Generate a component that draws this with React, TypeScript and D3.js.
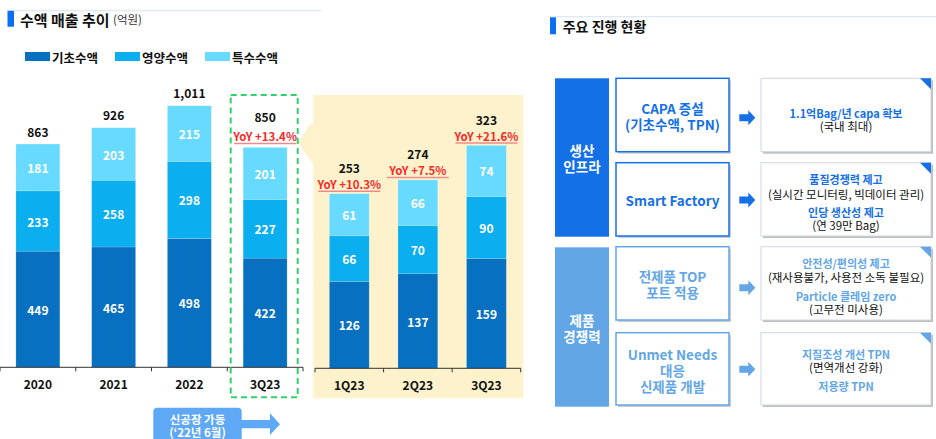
import React from 'react';
import * as d3 from 'd3';

const annualCategories = ['2020', '2021', '2022', '3Q23'];
const annualBasic = [449, 465, 498, 422];
const annualNutrition = [233, 258, 298, 227];
const annualSpecial = [181, 203, 215, 201];
const annualTotals = ['863', '926', '1,011', '850'];
const annualYoY = ['', '', '', 'YoY +13.4%'];

const quarterCategories = ['1Q23', '2Q23', '3Q23'];
const quarterBasic = [126, 137, 159];
const quarterNutrition = [66, 70, 90];
const quarterSpecial = [61, 66, 74];
const quarterTotals = ['253', '274', '323'];
const quarterYoY = ['YoY +10.3%', 'YoY +7.5%', 'YoY +21.6%'];

const seriesNames = ['기초수액', '영양수액', '특수수액'];
const seriesColors = ['#0870c1', '#0baeee', '#69daff'];

const FONT = "'Noto Sans CJK KR', 'Noto Sans', sans-serif";

type Row = { cat: string; vals: number[]; total: string; yoy: string };

function Stack({ rows, x, y, baseline, yoyOff, valOff }: { rows: Row[]; x: d3.ScaleBand<string>; y: d3.ScaleLinear<number, number>; baseline: number; yoyOff: number; valOff: number }) {
  return (
    <g>
      {rows.map((r) => {
        const stacked = d3.stack<number[]>().keys(['0', '1', '2']).value((d, k) => d[+k])([r.vals]);
        const bx = x(r.cat)!;
        const bw = x.bandwidth();
        const top = y(d3.sum(r.vals));
        return (
          <g key={r.cat}>
            {stacked.map((s, i) => {
              const y0 = y(s[0][0]);
              const y1 = y(s[0][1]);
              return (
                <g key={i}>
                  <rect x={bx} y={y1} width={bw} height={y0 - y1} fill={seriesColors[i]} stroke="#ffffff" strokeOpacity={0.25} strokeWidth={0.6} />
                  <text x={bx + bw / 2} y={(y0 + y1) / 2} textAnchor="middle" dominantBaseline="central" fill="#fff" fontSize={12} fontWeight="bold" fontFamily={FONT}>{r.vals[i]}</text>
                </g>
              );
            })}
            {r.yoy && (
              <g>
                <text x={bx + bw / 2} y={top - yoyOff} textAnchor="middle" dominantBaseline="central" fill="#f52a2a" fontSize={11.5} fontWeight="bold" fontFamily={FONT}>{r.yoy}</text>
                <line x1={bx + bw / 2 - 31} x2={bx + bw / 2 + 31} y1={top - yoyOff + 7} y2={top - yoyOff + 7} stroke="#f28a8a" strokeWidth={1.5} />
              </g>
            )}
            <text x={bx + bw / 2} y={top - (r.yoy ? valOff : 13)} textAnchor="middle" dominantBaseline="central" fill="#111" fontSize={12} fontWeight="bold" fontFamily={FONT}>{r.total}</text>
          </g>
        );
      })}
      <line x1={x.range()[0]} x2={x.range()[1]} y1={baseline} y2={baseline} stroke="#333" strokeWidth={1} />
      {d3.range(x.domain().length + 1).map((i) => {
        const tx = x.range()[0] + x.step() * i;
        return <line key={i} x1={tx} x2={tx} y1={baseline} y2={baseline + 4} stroke="#333" strokeWidth={1} />;
      })}
      {x.domain().map((c) => (
        <text key={c} x={x(c)! + x.bandwidth() / 2} y={baseline + 16} textAnchor="middle" dominantBaseline="central" fill="#111" fontSize={12} fontWeight="bold" fontFamily={FONT}>{c}</text>
      ))}
    </g>
  );
}

function BlockArrow({ x, cy, color }: { x: number; cy: number; color: string }) {
  const p = [[x, cy - 3.5], [x + 9, cy - 3.5], [x + 9, cy - 7.5], [x + 16, cy], [x + 9, cy + 7.5], [x + 9, cy + 3.5], [x, cy + 3.5]];
  return <polygon points={p.map((q) => q.join(',')).join(' ')} fill={color} />;
}

function RightBox({ y0, y1, corner, lines }: { y0: number; y1: number; corner: string; lines: { t: string; y: number; c: string; b: boolean }[] }) {
  const x0 = 761, x1 = 931;
  return (
    <g>
      <rect x={x0 + 2} y={y0 + 2} width={x1 - x0} height={y1 - y0} fill="#8a8a8a" opacity={0.55} />
      <rect x={x0} y={y0} width={x1 - x0} height={y1 - y0} fill="#fff" stroke="#d0d6de" strokeWidth={1} />
      <polygon points={`${x1 - 11},${y0} ${x1},${y0} ${x1},${y0 + 11}`} fill={corner} />
      {lines.map((l, i) => (
        <text key={i} x={(x0 + x1) / 2} y={l.y} textAnchor="middle" dominantBaseline="central" fill={l.c} fontSize={l.b ? 11 : 11.5} fontWeight={l.b ? 'bold' : 'normal'} fontFamily={FONT}>{l.t}</text>
      ))}
    </g>
  );
}

function MidBox({ y0, y1, color, lines }: { y0: number; y1: number; color: string; lines: { t: string; y: number }[] }) {
  const x0 = 616, x1 = 729;
  return (
    <g>
      <rect x={x0 + 2} y={y0 + 2} width={x1 - x0} height={y1 - y0} fill="#9a9a9a" opacity={0.5} />
      <rect x={x0} y={y0} width={x1 - x0} height={y1 - y0} fill="#fff" stroke={color} strokeWidth={1.5} />
      {lines.map((l, i) => (
        <text key={i} x={(x0 + x1) / 2} y={l.y} textAnchor="middle" dominantBaseline="central" fill={color} fontSize={13.5} fontWeight="bold" fontFamily={FONT}>{l.t}</text>
      ))}
    </g>
  );
}

export default function App() {
  const annualRows: Row[] = annualCategories.map((c, i) => ({ cat: c, vals: [annualBasic[i], annualNutrition[i], annualSpecial[i]], total: annualTotals[i], yoy: annualYoY[i] }));
  const quarterRows: Row[] = quarterCategories.map((c, i) => ({ cat: c, vals: [quarterBasic[i], quarterNutrition[i], quarterSpecial[i]], total: quarterTotals[i], yoy: quarterYoY[i] }));

  const xA = d3.scaleBand<string>().domain(annualCategories).range([0, 303]).paddingInner(0.42).paddingOuter(0.21);
  const yA = d3.scaleLinear().domain([0, 1100]).range([367.3, 367.3 - 0.2587 * 1100]);
  const xQ = d3.scaleBand<string>().domain(quarterCategories).range([315, 520.7]).paddingInner(0.42).paddingOuter(0.21);
  const yQ = d3.scaleLinear().domain([0, 350]).range([368.3, 368.3 - 0.69 * 350]);

  const dark = '#1470e6';
  const light = '#62a6e6';

  return (
    <svg width={936} height={439} style={{ position: 'absolute', left: 0, top: 0 }} fontFamily={FONT}>
      <rect width={936} height={439} fill="#fff" />
      {/* left header */}
      <line x1={14} x2={322} y1={10.7} y2={10.7} stroke="#d6e4f5" strokeWidth={1} />
      <rect x={7.5} y={10.7} width={6.5} height={16} fill="#0a6ff0" />
      <text x={20} y={19} dominantBaseline="central" fontSize={15} fontWeight="bold" fill="#111">수액 매출 추이 <tspan fontSize={11.5} fontWeight="normal" fill="#333">(억원)</tspan></text>
      {/* legend */}
      {seriesNames.map((n, i) => (
        <g key={n}>
          <rect x={25 + i * 90} y={52} width={25} height={9} fill={seriesColors[i]} />
          <text x={52 + i * 90} y={57} dominantBaseline="central" fontSize={12.5} fontWeight="bold" fill="#111">{n}</text>
        </g>
      ))}
      {/* yellow panel + callout */}
      <rect x={313.3} y={95} width={210} height={303.3} fill="#fdf2cc" />
      <polygon points="310,124 298.3,143 313.5,165 313.5,124" fill="#fdf2cc" />
      <Stack rows={annualRows} x={xA} y={yA} baseline={367.3} yoyOff={11} valOff={30.5} />
      <Stack rows={quarterRows} x={xQ} y={yQ} baseline={368.3} yoyOff={9.5} valOff={26} />
      {/* dashed box */}
      <rect x={230.7} y={95} width={67} height={302.3} fill="none" stroke="#2fd36b" strokeWidth={2} strokeDasharray="6,4" />
      {/* button */}
      <rect x={153.3} y={407.7} width={88.4} height={40} rx={4} fill="#5ea8f6" />
      <polygon points="241,420 270,420 270,413.3 280,424.2 270,435 270,428.3 241,428.3" fill="#5ea8f6" />
      <text x={197.5} y={419} textAnchor="middle" dominantBaseline="central" fill="#fff" fontSize={11.5} fontWeight="bold">신공장 가동</text>
      <text x={197.5} y={431.5} textAnchor="middle" dominantBaseline="central" fill="#fff" fontSize={11.5} fontWeight="bold">(‘22년 6월)</text>

      {/* right header */}
      <line x1={550} x2={936} y1={16.7} y2={16.7} stroke="#d6e4f5" strokeWidth={1} />
      <rect x={550} y={17.3} width={6} height={17} fill="#0a6ff0" />
      <text x={562.7} y={26} dominantBaseline="central" fontSize={14} fontWeight="bold" fill="#111">주요 진행 현황</text>

      {/* left blocks */}
      <rect x={555} y={78.3} width={54} height={158.4} fill={dark} />
      <text x={582} y={150} textAnchor="middle" dominantBaseline="central" fill="#fff" fontSize={13.5} fontWeight="bold">생산</text>
      <text x={582} y={165.5} textAnchor="middle" dominantBaseline="central" fill="#fff" fontSize={13.5} fontWeight="bold">인프라</text>
      <rect x={555} y={247.3} width={54} height={159.4} fill={light} />
      <text x={582} y={320} textAnchor="middle" dominantBaseline="central" fill="#fff" fontSize={13.5} fontWeight="bold">제품</text>
      <text x={582} y={335.7} textAnchor="middle" dominantBaseline="central" fill="#fff" fontSize={13.5} fontWeight="bold">경쟁력</text>

      <MidBox y0={78.3} y1={151.7} color={dark} lines={[{ t: 'CAPA 증설', y: 108.3 }, { t: '(기초수액, TPN)', y: 123.5 }]} />
      <MidBox y0={162.7} y1={236} color={dark} lines={[{ t: 'Smart Factory', y: 200 }]} />
      <MidBox y0={246.7} y1={320} color={light} lines={[{ t: '전제품 TOP', y: 275.7 }, { t: '포트 적용', y: 291.7 }]} />
      <MidBox y0={332.7} y1={405} color={light} lines={[{ t: 'Unmet Needs', y: 354.3 }, { t: '대응', y: 370 }, { t: '신제품 개발', y: 385.5 }]} />

      <BlockArrow x={739.3} cy={117.7} color={dark} />
      <BlockArrow x={739.3} cy={200} color={dark} />
      <BlockArrow x={739.3} cy={287.7} color={light} />
      <BlockArrow x={739.3} cy={369.3} color={light} />

      <RightBox y0={78.3} y1={151.7} corner={dark} lines={[{ t: '1.1억Bag/년 capa 확보', y: 112.7, c: dark, b: true }, { t: '(국내 최대)', y: 125.5, c: '#111', b: false }]} />
      <RightBox y0={162.7} y1={236} corner={dark} lines={[
        { t: '품질경쟁력 제고', y: 179.3, c: dark, b: true },
        { t: '(실시간 모니터링, 빅데이터 관리)', y: 194, c: '#111', b: false },
        { t: '인당 생산성 제고', y: 212.3, c: dark, b: true },
        { t: '(연 39만 Bag)', y: 225.3, c: '#111', b: false },
      ]} />
      <RightBox y0={246.7} y1={320} corner={light} lines={[
        { t: '안전성/편의성 제고', y: 262.7, c: light, b: true },
        { t: '(재사용불가, 사용전 소독 불필요)', y: 276.7, c: '#111', b: false },
        { t: 'Particle 클레임 zero', y: 296, c: light, b: true },
        { t: '(고무전 미사용)', y: 309, c: '#111', b: false },
      ]} />
      <RightBox y0={332.7} y1={405} corner={light} lines={[
        { t: '지질조성 개선 TPN', y: 354.3, c: light, b: true },
        { t: '(면역개선 강화)', y: 366.7, c: '#111', b: false },
        { t: '저용량 TPN', y: 385.7, c: light, b: true },
      ]} />
    </svg>
  );
}
